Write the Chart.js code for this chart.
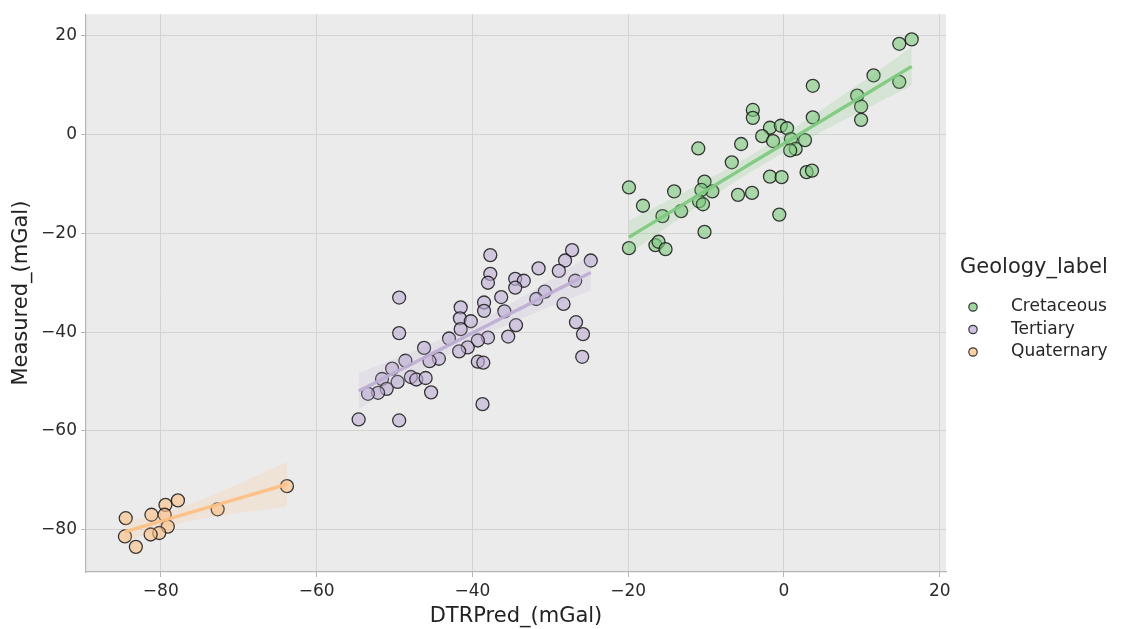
<!DOCTYPE html>
<html>
<head>
<meta charset="utf-8">
<title>DTRPred vs Measured</title>
<script src="https://cdn.jsdelivr.net/npm/chart.js@4.4.0/dist/chart.umd.min.js"></script>
<style>
  html, body { margin: 0; padding: 0; background: #fff; }
  #wrap { width: 1121px; height: 629px; }
</style>
</head>
<body>
<div id="wrap"><canvas id="plot" width="1121" height="629"></canvas></div>
<script>
// axis ticks
const xTicks = [-80, -60, -40, -20, 0, 20];
const yTicks = [-80, -60, -40, -20, 0, 20];

// groups (legend order)
const groupNames = ["Cretaceous", "Tertiary", "Quaternary"];
const groupColors = ["127,201,127", "190,174,212", "253,192,134"];

// Cretaceous samples
const cretaceousX = [16.4, 14.8, 11.5, 14.8, 3.7, 9.4, 9.9, 9.9, 3.7, -4.0, -4.0, -1.8, -0.4, 0.4, -2.8,
  -1.4, 0.9, 2.7, 1.5, 0.8, -5.5, -11.0, -6.7, -1.8, -0.3, 2.9, 3.6, -10.2, -9.2, -10.6,
  -14.1, -5.9, -4.1, -19.9, -18.1, -15.6, -13.2, -10.9, -10.4, -0.6, -10.2, -19.9, -16.5, -16.1, -15.2];
const cretaceousY = [19.3, 18.4, 12.0, 10.7, 9.9, 7.9, 5.7, 3.0, 3.5, 5.0, 3.4, 1.4, 1.8, 1.3, -0.3,
  -1.3, -0.9, -1.1, -2.9, -3.2, -1.9, -2.8, -5.6, -8.5, -8.6, -7.6, -7.3, -9.5, -11.5, -11.2,
  -11.5, -12.2, -11.8, -10.7, -14.4, -16.5, -15.5, -13.5, -14.1, -16.2, -19.7, -23.0, -22.4, -21.7, -23.2];

// Tertiary samples
const tertiaryX = [-37.7, -37.7, -38.0, -27.2, -28.1, -28.9, -24.8, -31.5, -34.5, -33.4, -34.5, -26.8, -30.7, -31.8,
  -28.3, -36.3, -38.5, -38.5, -35.9, -49.4, -41.5, -41.6, -40.2, -41.5, -34.4, -26.7, -25.8, -25.9,
  -49.4, -35.4, -38.0, -39.3, -43.0, -40.6, -41.7, -46.2, -44.3, -45.5, -48.6, -39.3, -38.6, -50.3,
  -47.9, -47.2, -46.0, -49.6, -51.6, -51.0, -52.1, -53.4, -45.3, -38.7, -54.6, -49.4];
const tertiaryY = [-24.4, -28.2, -30.0, -23.4, -25.5, -27.6, -25.5, -27.1, -29.2, -29.6, -31.0, -29.6, -31.8, -33.3,
  -34.3, -32.9, -34.0, -35.7, -35.8, -33.0, -35.0, -37.2, -37.8, -39.4, -38.6, -38.0, -40.4, -45.0,
  -40.2, -40.9, -41.1, -41.7, -41.3, -43.1, -43.9, -43.2, -45.4, -45.9, -45.8, -46.0, -46.2, -47.4,
  -49.1, -49.6, -49.3, -50.1, -49.5, -51.5, -52.3, -52.5, -52.2, -54.6, -57.7, -57.9];

// Quaternary samples
const quaternaryX = [-63.8, -72.7, -77.8, -79.4, -81.2, -79.5, -84.5, -79.1, -80.2, -81.3, -84.6, -83.2];
const quaternaryY = [-71.2, -75.9, -74.1, -75.0, -77.0, -77.0, -77.7, -79.4, -80.7, -81.0, -81.4, -83.5];

const groupX = [cretaceousX, tertiaryX, quaternaryX];
const groupY = [cretaceousY, tertiaryY, quaternaryY];

const FONT = "'DejaVu Sans', sans-serif";
const minus = v => String(v).replace("-", "\u2212");

// least squares fit + 95% confidence band for the mean
function fitGroup(xs, ys) {
  const n = xs.length;
  const mx = xs.reduce((a, b) => a + b, 0) / n;
  const my = ys.reduce((a, b) => a + b, 0) / n;
  let sxx = 0, sxy = 0;
  for (let i = 0; i < n; i++) {
    sxx += (xs[i] - mx) * (xs[i] - mx);
    sxy += (xs[i] - mx) * (ys[i] - my);
  }
  const slope = sxy / sxx, icpt = my - slope * mx;
  let sse = 0;
  for (let i = 0; i < n; i++) sse += Math.pow(ys[i] - (icpt + slope * xs[i]), 2);
  const s = Math.sqrt(sse / (n - 2));
  const t = 1.96 + 2.4 / (n - 2);
  const lo = Math.min(...xs), hi = Math.max(...xs);
  const line = [], upper = [], lower = [];
  const steps = 40;
  for (let k = 0; k <= steps; k++) {
    const x = lo + (hi - lo) * k / steps;
    const yh = icpt + slope * x;
    const w = t * s * Math.sqrt(1 / n + (x - mx) * (x - mx) / sxx);
    line.push({ x: x, y: yh });
    upper.push({ x: x, y: yh + w });
    lower.push({ x: x, y: yh - w });
  }
  return { line, upper, lower };
}

const datasets = [];
let seq = 0;
groupNames.forEach((name, g) => {
  const c = groupColors[g];
  const pts = groupX[g].map((x, i) => ({ x: x, y: groupY[g][i] }));
  const fit = fitGroup(groupX[g], groupY[g]);
  // scatter first, then the fit on top of it
  datasets.push({
    type: "scatter", label: name, data: pts, order: 100 - (seq++),
    pointRadius: 6.5, pointHoverRadius: 6.5, pointBorderWidth: 1.3,
    backgroundColor: "rgba(" + c + ",0.6)", borderColor: "rgba(25,25,25,0.85)"
  });
  datasets.push({
    type: "line", label: name + " ci hi", data: fit.upper, order: 100 - (seq++),
    borderWidth: 0, pointRadius: 0, fill: false, showLine: true
  });
  datasets.push({
    type: "line", label: name + " ci lo", data: fit.lower, order: 100 - (seq++),
    borderWidth: 0, pointRadius: 0, showLine: true,
    fill: "-1", backgroundColor: "rgba(" + c + ",0.2)"
  });
  datasets.push({
    type: "line", label: name + " fit", data: fit.line, order: 100 - (seq++),
    borderColor: "rgba(" + c + ",0.95)", borderWidth: 3.4, pointRadius: 0, fill: false, showLine: true
  });
});

// grey panel behind the grid
const panelBg = {
  id: "panelBg",
  beforeDraw(chart) {
    const a = chart.chartArea, ctx = chart.ctx;
    ctx.save();
    ctx.fillStyle = "#ebebeb";
    ctx.fillRect(a.left, a.top, a.right - a.left, a.bottom - a.top);
    ctx.restore();
  }
};

// legend to the right of the panel
const sideLegend = {
  id: "sideLegend",
  afterDraw(chart) {
    const ctx = chart.ctx;
    ctx.save();
    ctx.fillStyle = "#262626";
    ctx.textBaseline = "middle";
    ctx.textAlign = "left";
    ctx.font = "21px " + FONT;
    ctx.fillText("Geology_label", 960, 268);
    ctx.font = "17px " + FONT;
    groupNames.forEach((name, g) => {
      const y = 307 + g * 22.5;
      ctx.beginPath();
      ctx.arc(973, y, 4.2, 0, Math.PI * 2);
      ctx.fillStyle = "rgba(" + groupColors[g] + ",0.75)";
      ctx.fill();
      ctx.lineWidth = 1.2;
      ctx.strokeStyle = "rgba(25,25,25,0.85)";
      ctx.stroke();
      ctx.fillStyle = "#262626";
      ctx.fillText(name, 1011, y);
    });
    ctx.restore();
  }
};

const gridCol = "#d3d3d3";
const axisCol = "#b5b5b5";
const gridFor = list => ctx => (ctx.tick && list.includes(ctx.tick.value)) ? gridCol : "rgba(0,0,0,0)";

new Chart(document.getElementById("plot"), {
  data: { datasets: datasets },
  options: {
    responsive: false,
    animation: false,
    devicePixelRatio: 1,
    layout: { padding: { left: 0, top: 13, right: 175, bottom: 0 } },
    plugins: { legend: { display: false }, tooltip: { enabled: false } },
    scales: {
      x: {
        type: "linear", min: -89.6, max: 20.8,
        afterBuildTicks: s => { s.ticks = xTicks.map(v => ({ value: v })); },
        afterFit: s => { s.height = 57; },
        grid: { color: gridFor(xTicks), lineWidth: 1, tickLength: 5, tickColor: axisCol },
        border: { color: axisCol, width: 1.2 },
        ticks: { color: "#2a2a2a", font: { family: FONT, size: 17 }, padding: 4, callback: v => minus(v), maxRotation: 0 },
        title: { display: true, text: "DTRPred_(mGal)", color: "#222", font: { family: FONT, size: 21 }, padding: { top: 0, bottom: 0 } }
      },
      y: {
        type: "linear", min: -88.6, max: 24.4,
        afterBuildTicks: s => { s.ticks = yTicks.map(v => ({ value: v })); },
        afterFit: s => { s.width = 86; },
        grid: { color: gridFor(yTicks), lineWidth: 1, tickLength: 5, tickColor: axisCol },
        border: { color: axisCol, width: 1.2 },
        ticks: { color: "#2a2a2a", font: { family: FONT, size: 17 }, padding: 4, callback: v => minus(v) },
        title: { display: true, text: "Measured_(mGal)", color: "#222", font: { family: FONT, size: 21 }, padding: { top: 9, bottom: 0 } }
      }
    }
  },
  plugins: [panelBg, sideLegend]
});
</script>
</body>
</html>
